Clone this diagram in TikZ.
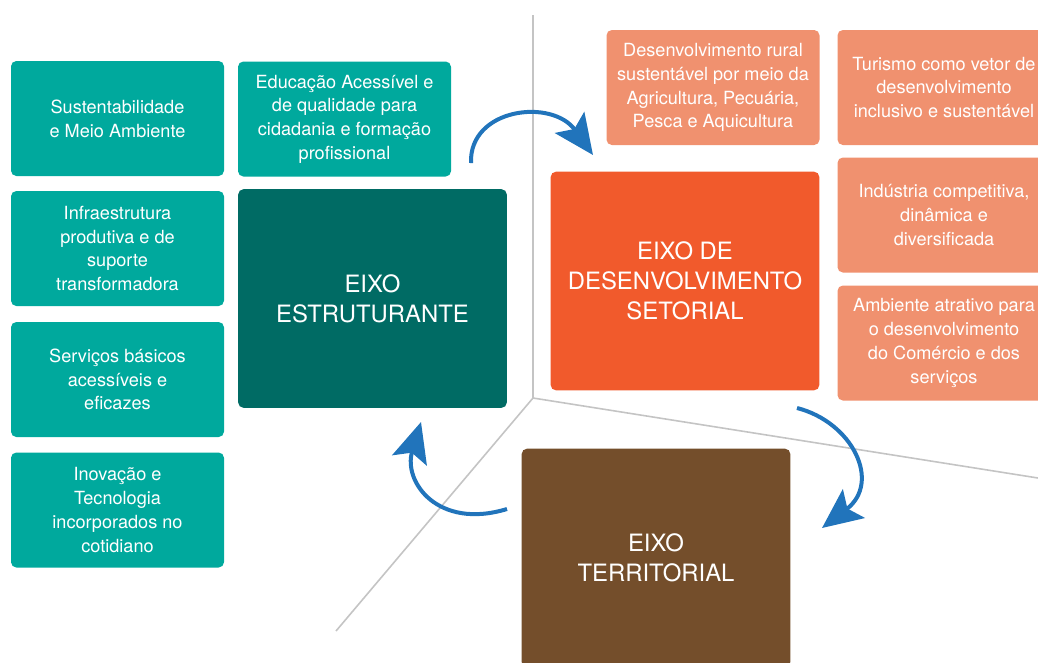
\documentclass[tikz,border=0pt]{standalone}
\usepackage{fontspec}
\setmainfont{TeX Gyre Heros}
\usetikzlibrary{arrows.meta}
\definecolor{tealbox}{HTML}{00A99D}
\definecolor{tealdark}{HTML}{006B64}
\definecolor{orangemain}{HTML}{F15A2C}
\definecolor{orangelight}{HTML}{F0916F}
\definecolor{brownbox}{HTML}{744E2B}
\definecolor{arrowblue}{HTML}{2174BB}
\definecolor{axisgray}{HTML}{C4C4C4}

\begin{document}
\begin{tikzpicture}[x=0.75pt,y=-0.75pt,>=Stealth]
    \tikzset{
        box/.style={
            rounded corners=4pt,
            text=white,
            align=center,
            inner sep=0pt,
            font=\fontsize{13.6}{17.8}\selectfont
        },
        small/.style={box,minimum width=159.75pt,minimum height=86.25pt},
        pillar/.style={small,fill=tealbox},
        sector/.style={small,fill=orangelight},
        axis/.style={box,minimum width=201.5pt,minimum height=164pt,
            font=\fontsize{17.9}{22.3}\selectfont},
        link/.style={draw=arrowblue,line width=3pt,
            -{Stealth[length=30pt,width=27pt,inset=6pt]}},
        divider/.style={draw=axisgray,line width=1.2pt}
    }
    \useasboundingbox (0,0) rectangle (1038,662);
    \clip (0,0) rectangle (1038,662);

    % dividing lines
    \coordinate (hub) at (533,398);
    \coordinate (up) at (533,15);
    \coordinate (right) at (1038,478);
    \coordinate (down) at (336,631);
    \draw[divider] (up) -- (hub) -- (right);
    \draw[divider] (hub) -- (down);

    % structuring axis
    \node[pillar] (sust) at (117.5,118.5)
        {Sustentabilidade\\e Meio Ambiente};
    \node[pillar] (infra) at (117.5,248.5)
        {Infraestrutura\\produtiva e de\\suporte\\transformadora};
    \node[pillar] (serv) at (117.5,379.5)
        {Serviços básicos\\acessíveis e\\eficazes};
    \node[pillar] (inov) at (117.5,510)
        {Inovação e\\Tecnologia\\incorporados no\\cotidiano};
    \node[pillar] (edu) at (344.5,119)
        {Educação Acessível e\\de qualidade para\\cidadania e formação\\profissional};
    \node[axis,fill=tealdark] (estr) at (372.5,298.5)
        {EIXO\\ESTRUTURANTE};

    % sectoral axis
    \node[sector] (rural) at (713,87.5)
        {Desenvolvimento rural\\sustentável por meio da\\Agricultura, Pecuária,\\Pesca e Aquicultura};
    \node[sector] (tur) at (944,87.5)
        {Turismo como vetor de\\desenvolvimento\\inclusivo e sustentável};
    \node[sector] (ind) at (944,215)
        {Indústria competitiva,\\dinâmica e\\diversificada};
    \node[sector] (amb) at (944,343)
        {Ambiente atrativo para\\o desenvolvimento\\do Comércio e dos\\serviços};
    \node[axis,fill=orangemain] (set) at (685,281)
        {EIXO DE\\DESENVOLVIMENTO\\SETORIAL};

    % territorial axis
    \node[axis,fill=brownbox] (terr) at (656,558)
        {EIXO\\TERRITORIAL};

    % cycle arrows
    \coordinate (a1) at (471,163);
    \coordinate (b1) at (593,155);
    \coordinate (a2) at (797,408);
    \coordinate (b2) at (822,528);
    \coordinate (a3) at (507,509);
    \coordinate (b3) at (421,422);
    \draw[link] (a1) .. controls (469,108) and (552,98) .. (b1);
    \draw[link] (a2) .. controls (852,422) and (882,482) .. (b2);
    \draw[link] (a3) .. controls (438,530) and (403,482) .. (b3);
\end{tikzpicture}
\end{document}
